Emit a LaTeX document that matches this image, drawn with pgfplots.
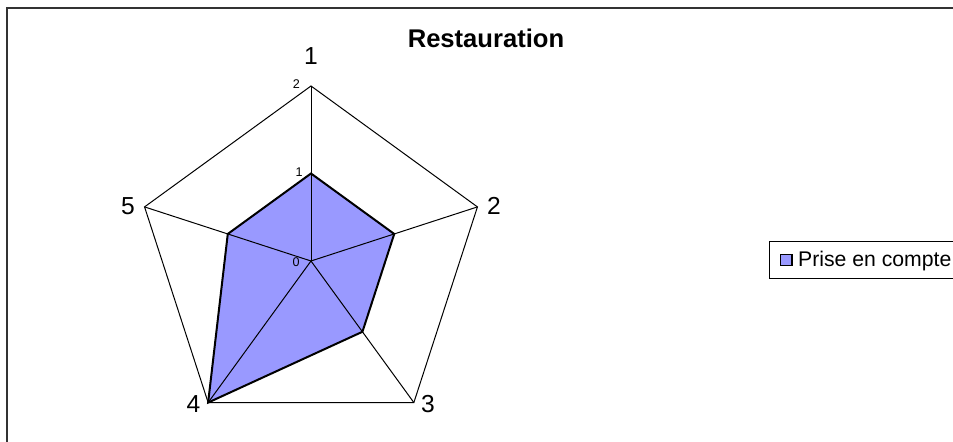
\documentclass[border=0pt]{standalone}
\usepackage{fontspec}
\setmainfont{Liberation Sans}
\usepackage{pgfplots}
\pgfplotsset{compat=1.18}
\definecolor{serfill}{RGB}{153,153,255}
\begin{document}
\begin{tikzpicture}[x=1pt,y=1pt]
\begin{axis}[
  at={(155.5pt,90.5pt)}, anchor=center,
  x=43.75pt, y=43.75pt,
  xmin=-2.3, xmax=2.3, ymin=-2.3, ymax=2.3,
  hide axis, clip=false,
  legend style={at={(1.6379,0.5025)}, anchor=west, draw=black, line width=0.6pt,
    fill=white, font=\fontsize{10.6}{12}\selectfont, inner xsep=3pt, inner ysep=2.5pt},
  legend cell align=left,
]
\addplot[data cs=polar, fill=serfill, draw=black, line width=1pt, line join=miter,
  legend image code/.code={\path (-2pt,0) (6.3pt,0);
    \draw[fill=serfill,draw=black,line width=0.8pt] (0pt,-2.8pt) rectangle (5.6pt,2.8pt);}]
  coordinates {(90,1) (18,1) (-54,1) (-126,2) (162,1)} -- cycle;
\addlegendentry{Prise en compte}
% outer grid pentagon
\addplot[data cs=polar, black, line width=0.5pt, forget plot]
  coordinates {(90,2) (18,2) (-54,2) (-126,2) (162,2)} -- cycle;
% spokes
\addplot[data cs=polar, black, line width=0.5pt, forget plot] coordinates {(90,0) (90,2)};
\addplot[data cs=polar, black, line width=0.5pt, forget plot] coordinates {(18,0) (18,2)};
\addplot[data cs=polar, black, line width=0.5pt, forget plot] coordinates {(-54,0) (-54,2)};
\addplot[data cs=polar, black, line width=0.5pt, forget plot] coordinates {(-126,0) (-126,2)};
\addplot[data cs=polar, black, line width=0.5pt, forget plot] coordinates {(162,0) (162,2)};
% category labels
\node[font=\fontsize{12.3}{14}\selectfont] at (axis cs:0,2.345) {1};
\node[font=\fontsize{12.3}{14}\selectfont] at (axis cs:2.091,0.629) {2};
\node[font=\fontsize{12.3}{14}\selectfont] at (axis cs:1.337,-1.64) {3};
\node[font=\fontsize{12.3}{14}\selectfont] at (axis cs:-1.343,-1.64) {4};
\node[font=\fontsize{12.3}{14}\selectfont] at (axis cs:-2.091,0.629) {5};
% radial tick labels
\node[font=\fontsize{6.3}{7}\selectfont, inner sep=0pt] at (axis cs:-0.166,2.017) {2};
\node[font=\fontsize{6.3}{7}\selectfont, inner sep=0pt] at (axis cs:-0.137,1.011) {1};
\node[font=\fontsize{6.3}{7}\selectfont, inner sep=0pt] at (axis cs:-0.171,-0.011) {0};
\end{axis}
\node[font=\bfseries\fontsize{12.8}{15}\selectfont] at (243pt,201.75pt) {Restauration};
\draw[line width=1pt, color=black!80] (3.5pt,-5pt) -- (3.5pt,216.75pt) -- (480pt,216.75pt);
\pgfresetboundingbox
\path[use as bounding box] (0,0) rectangle (476.5pt,221pt);
\end{tikzpicture}
\end{document}
